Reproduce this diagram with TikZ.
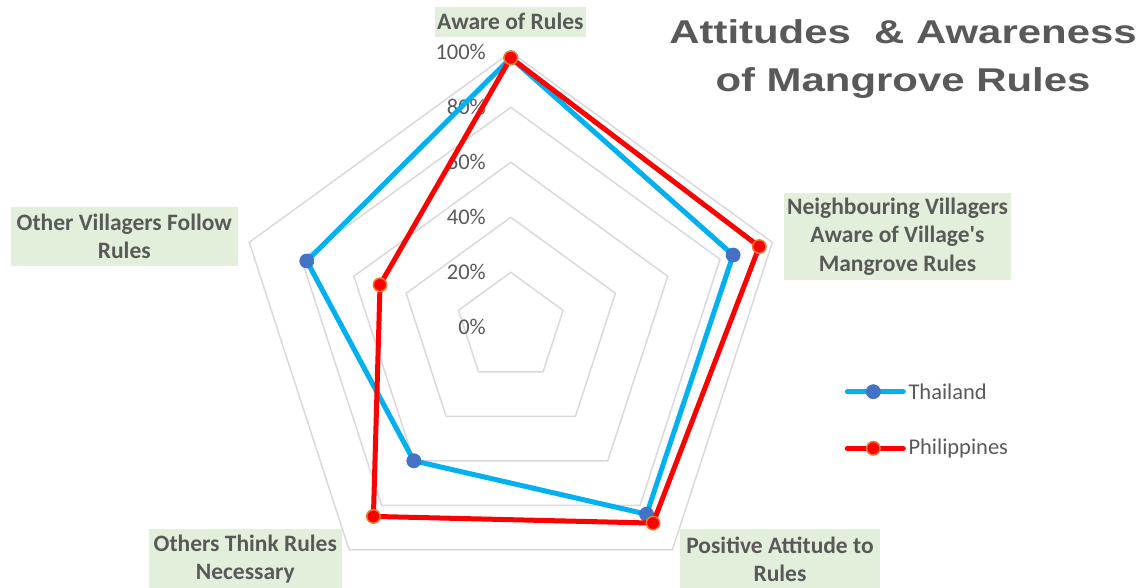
\documentclass[tikz,border=0pt]{standalone}
\usepackage{fontspec}
\setmainfont{Carlito}
\newfontfamily\titlefont[FakeStretch=1.27]{Liberation Sans}
\usetikzlibrary{positioning}
\definecolor{txtgray}{HTML}{595959}
\definecolor{ringgray}{HTML}{D9D9D9}
\definecolor{catfill}{HTML}{E2EFDA}
\definecolor{thaiblue}{HTML}{00B0F0}
\definecolor{thaimark}{HTML}{4472C4}
\definecolor{phired}{HTML}{FF0000}
\definecolor{phiedge}{HTML}{ED7D31}
\begin{document}
\begin{tikzpicture}[x=1pt,y=1pt,
  catlabel/.style={fill=catfill,text=txtgray,align=center,inner sep=0pt,font=\bfseries\fontsize{23.5}{28.3}\selectfont},
  pctlabel/.style={text=txtgray,anchor=east,inner sep=0pt,font=\fontsize{22.5}{26}\selectfont},
  legtext/.style={text=txtgray,anchor=west,inner sep=0pt,font=\fontsize{22.5}{26}\selectfont},
  thailine/.style={thaiblue,line width=5pt,line join=round},
  philine/.style={phired,line width=5pt,line join=round},
  thaidot/.style={circle,fill=thaimark,draw=thaimark,line width=.8pt,inner sep=0pt,minimum size=14pt},
  phidot/.style={circle,fill=phired,draw=phiedge,line width=1.5pt,inner sep=0pt,minimum size=13.5pt}]
\useasboundingbox (0,0) rectangle (1144,-587);

% title
\node[text=txtgray,align=center,font=\titlefont\bfseries\fontsize{33}{47.7}\selectfont] (title) at (903,-59) {Attitudes\ \ \& Awareness\\of Mangrove Rules};

\begin{scope}[shift={(510.8,-327.3)}]
% rings
\foreach \r in {55,110,165,220,275}
  \draw[ringgray,line width=1.5pt] (90:\r) -- (18:\r) -- (-54:\r) -- (-126:\r) -- (162:\r) -- cycle;
\node[pctlabel] (p0) at (-24.8,0) {0\%};
\node[pctlabel] (p20) at (-24.8,55) {20\%};
\node[pctlabel] (p40) at (-24.8,110) {40\%};
\node[pctlabel] (p60) at (-24.8,165) {60\%};
\node[pctlabel] (p80) at (-24.8,220) {80\%};
\node[pctlabel] (p100) at (-24.8,275) {100\%};

% Thailand
\coordinate (th-aware) at (90:269.5);
\coordinate (th-neigh) at (18:233.75);
\coordinate (th-pos) at (-54:231);
\coordinate (th-think) at (-126:165);
\coordinate (th-follow) at (162:214.5);
\draw[thailine] (th-aware) -- (th-neigh) -- (th-pos) -- (th-think) -- (th-follow) -- cycle;
\foreach \p in {th-aware,th-neigh,th-pos,th-think,th-follow}
  \node[thaidot] at (\p) {};

% Philippines
\coordinate (ph-aware) at (90:269.5);
\coordinate (ph-neigh) at (18:261.25);
\coordinate (ph-pos) at (-54:242);
\coordinate (ph-think) at (-126:233.75);
\coordinate (ph-follow) at (162:137.5);
\draw[philine] (ph-aware) -- (ph-neigh) -- (ph-pos) -- (ph-think) -- (ph-follow) -- cycle;
\foreach \p in {ph-aware,ph-neigh,ph-pos,ph-think,ph-follow}
  \node[phidot] at (\p) {};
\end{scope}

% category labels
\node[catlabel,minimum width=150.7,minimum height=30] (aware) at (510.3,-21.7) {Aware of Rules};
\node[catlabel,minimum width=227,minimum height=86.7] (neigh) at (897.5,-236.7) {Neighbouring Villagers\\Aware of Village\textquotesingle s\\Mangrove Rules};
\node[catlabel,minimum width=200,minimum height=60] (pos) at (780,-559) {Positive Attitude to\\Rules};
\node[catlabel,minimum width=192.7,minimum height=60] (think) at (245.3,-559) {Others Think Rules\\Necessary};
\node[catlabel,minimum width=226.7,minimum height=59.3] (follow) at (124.3,-236.3) {Other Villagers Follow\\Rules};

% legend
\coordinate (lg-th-a) at (847.3,-391.7);
\coordinate (lg-th-b) at (903.3,-391.7);
\draw[thailine,line cap=round] (lg-th-a) -- (lg-th-b);
\node[thaidot] (lg-th) at (873.3,-391.7) {};
\node[legtext,right=5pt of lg-th-b] (th-text) {Thailand};
\coordinate (lg-ph-a) at (847.3,-448.3);
\coordinate (lg-ph-b) at (903.3,-448.3);
\draw[philine,line cap=round] (lg-ph-a) -- (lg-ph-b);
\node[phidot] (lg-ph) at (873.3,-448.3) {};
\node[legtext,right=5pt of lg-ph-b] (ph-text) {Philippines};
\end{tikzpicture}
\end{document}
